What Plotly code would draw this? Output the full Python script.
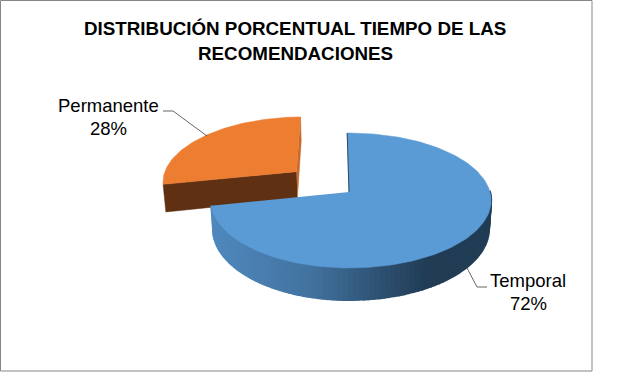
import numpy as np
import plotly.graph_objects as go

labels = ["Temporal", "Permanente"]
values = [72, 28]
pull = [0.0, 0.51]
top_colors = ["#5B9BD5", "#ED7D31"]
title_lines = ["DISTRIBUCIÓN PORCENTUAL TIEMPO DE LAS", "RECOMENDACIONES"]

X0, Y0 = 349, 192
BL, BR, A, K, H = 137, 141, 66.4, 0.126, 28
START = -0.015


def project(u, v, d=0.0):
    u, v = np.asarray(u, float), np.asarray(v, float)
    den = 1 + K * v
    b = np.where(u > 0, BR, BL)
    x = X0 + b * u / den * (1 - 0.015 * d)
    y = Y0 + (-A * v + H * d) / den
    return x, y


fracs = np.array(values) / sum(values) * 2 * np.pi
t_blue0, t_blue1 = START, START + fracs[0]
t_or0, t_or1 = t_blue1, t_blue1 + fracs[1]
mid = (t_or0 + t_or1) / 2
ou, ov = pull[1] * np.sin(mid), pull[1] * np.cos(mid)


def poly(x, y, color, width=0.5):
    return go.Scatter(x=x, y=y, mode="lines", fill="toself", fillcolor=color,
                      line=dict(color=color, width=width), hoverinfo="skip", showlegend=False)


fig = go.Figure()

# Orange: far radial wall sliver, near radial wall, top
t = t_or1
u1, v1 = np.array([ou, ou + np.sin(t), ou + np.sin(t), ou]), np.array([ov, ov + np.cos(t), ov + np.cos(t), ov])
x, y = project(u1, v1, np.array([0, 0, 1, 1]))
fig.add_trace(poly(x, y, "#C9692A"))
t = t_or0
u2, v2 = np.array([ou, ou + np.sin(t), ou + np.sin(t), ou]), np.array([ov, ov + np.cos(t), ov + np.cos(t), ov])
x, y = project(u2, v2, np.array([0, 0, 1, 1]))
fig.add_trace(poly(x, y, "#5F3112"))
th = np.linspace(t_or0, t_or1, 80)
x, y = project(np.r_[ou, ou + np.sin(th)], np.r_[ov, ov + np.cos(th)])
fig.add_trace(poly(x, y, top_colors[1]))

# Blue: outer side with gradient, then top
side_stops = [(0.0, (80, 137, 190)), (0.35, (67, 115, 160)), (0.62, (45, 80, 112)),
              (0.78, (33, 60, 84)), (1.0, (34, 62, 86))]
th = np.linspace(np.pi / 2 - 0.02, t_blue1, 90)
for a, b in zip(th[:-1], th[1:]):
    s = np.linspace(a, b, 3)
    xt, yt = project(np.sin(s), np.cos(s))
    xb, yb = project(np.sin(s), np.cos(s), 1.0)
    f = (xt.mean() - 212) / 278
    col = [np.interp(f, [p[0] for p in side_stops], [p[1][i] for p in side_stops]) for i in range(3)]
    c = "rgb(%d,%d,%d)" % tuple(col)
    fig.add_trace(poly(np.r_[xt, xb[::-1]], np.r_[yt, yb[::-1]], c, width=2))
th = np.linspace(t_blue0, t_blue1, 180)
x, y = project(np.r_[0, np.sin(th)], np.r_[0, np.cos(th)])
fig.add_trace(poly(x, y, top_colors[0]))
x, y = project([np.sin(START), 0], [np.cos(START), 0])
fig.add_trace(go.Scatter(x=x, y=y, mode="lines", line=dict(color="#2E4A62", width=1),
                         hoverinfo="skip", showlegend=False))

# Leader lines
fig.add_trace(go.Scatter(x=[163, 173, 207], y=[111, 111, 136], mode="lines",
                         line=dict(color="#404040", width=0.8), hoverinfo="skip", showlegend=False))
fig.add_trace(go.Scatter(x=[467, 477, 487], y=[268, 287, 287], mode="lines",
                         line=dict(color="#404040", width=0.8), hoverinfo="skip", showlegend=False))

FONT = "Liberation Sans"
ann = [
    dict(x=295, y=28, text="<b>%s</b>" % title_lines[0], size=18.8),
    dict(x=295, y=53, text="<b>%s</b>" % title_lines[1], size=18.8),
    dict(x=108, y=105, text=labels[1], size=18.5),
    dict(x=108, y=128, text="%d%%" % values[1], size=18.5),
    dict(x=528, y=280, text=labels[0], size=18.5),
    dict(x=528, y=303, text="%d%%" % values[0], size=18.5),
]
annotations = [dict(x=a["x"], y=a["y"], text=a["text"], xref="x", yref="y", showarrow=False,
                    xanchor="center", yanchor="middle", font=dict(family=FONT, size=a["size"], color="black"))
               for a in ann]

fig.update_layout(
    width=644, height=372, margin=dict(l=0, r=0, t=0, b=0), paper_bgcolor="white", plot_bgcolor="white",
    showlegend=False, annotations=annotations,
    xaxis=dict(range=[0, 644], visible=False, fixedrange=True),
    yaxis=dict(range=[372, 0], visible=False, fixedrange=True),
    shapes=[dict(type="rect", x0=0.5, y0=0.5, x1=592, y1=371, line=dict(color="#868686", width=1), layer="below")],
)
fig.write_html("out.html", config=dict(displayModeBar=False),
               post_script="document.body.style.margin='0';document.body.style.overflow='hidden';")
